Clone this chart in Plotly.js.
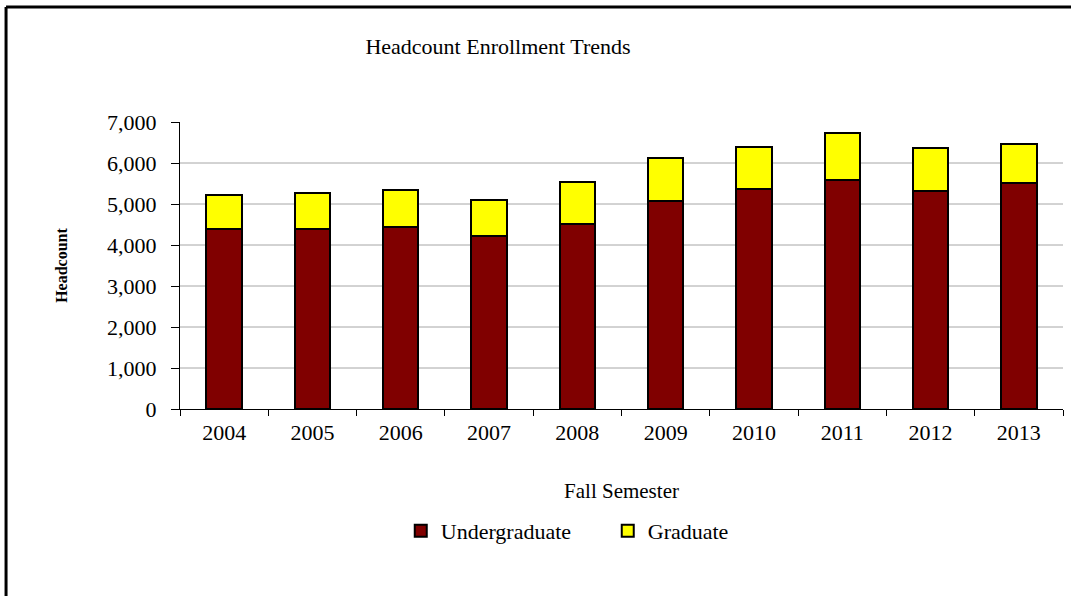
<!DOCTYPE html>
<html>
<head>
<meta charset="utf-8">
<script src="https://cdn.plot.ly/plotly-3.0.1.min.js"></script>
<style>html,body{margin:0;padding:0;background:#fff;}#chart{width:1071px;height:596px;}</style>
</head>
<body>
<div id="chart"></div>
<script>
const years = ['2004','2005','2006','2007','2008','2009','2010','2011','2012','2013'];
const undergraduate = [4390, 4390, 4430, 4230, 4520, 5080, 5375, 5595, 5325, 5520];
const graduate = [830, 870, 910, 870, 1025, 1030, 1015, 1145, 1035, 940];
const yTickVals = [0, 1000, 2000, 3000, 4000, 5000, 6000, 7000];
const gridVals = [1000, 2000, 3000, 4000, 5000, 6000];

const serif = 'Liberation Serif, Times New Roman, serif';

const traces = [
  {type:'bar', name:'Undergraduate', x:years, y:undergraduate,
   marker:{color:'#800000', line:{color:'#000', width:2}}, hoverinfo:'x+y+name'},
  {type:'bar', name:'Graduate', x:years, y:graduate,
   marker:{color:'#FFFF00', line:{color:'#000', width:2}}, hoverinfo:'x+y+name'}
];

const gridShapes = gridVals.map(v => ({
  type:'line', xref:'paper', yref:'y', x0:0, x1:1, y0:v, y1:v,
  line:{color:'#a6a6a6', width:1}, layer:'below'
}));

const layout = {
  width:1071, height:596,
  margin:{l:180, r:8, t:122, b:187, pad:0},
  paper_bgcolor:'#fff', plot_bgcolor:'#fff',
  font:{family:serif, color:'#000', size:21},
  barmode:'stack', bargap:0.6,
  title:{text:'Headcount Enrollment Trends', font:{family:serif, size:22, color:'#000'},
         xref:'container', x:0.465, xanchor:'center', yref:'container', y:0.923, yanchor:'middle'},
  xaxis:{type:'category', tickson:'boundaries', ticks:'outside', ticklen:6, tickcolor:'#000', tickwidth:1,
         showline:true, linecolor:'#000', linewidth:1, showgrid:false, ticklabelstandoff:4,
         tickfont:{family:serif, size:22, color:'#000'},
         title:{text:'Fall Semester', font:{family:serif, size:21, color:'#000'}, standoff:38}},
  yaxis:{range:[0,7000], tickvals:yTickVals, tickformat:',', ticks:'outside', ticklen:8, tickcolor:'#000', tickwidth:1,
         showline:true, linecolor:'#000', linewidth:1, showgrid:false,
         zeroline:false, ticklabelstandoff:10,
         tickfont:{family:serif, size:22, color:'#000'},
         title:{text:'<b>Headcount</b>', font:{family:serif, size:16, color:'#000'}, standoff:35}},
  legend:{orientation:'h', x:0.25, xanchor:'left', y:-0.425, yanchor:'middle',
          entrywidth:162, entrywidthmode:'pixels',
          font:{family:serif, size:22, color:'#000'}, traceorder:'normal', bgcolor:'rgba(0,0,0,0)'},
  showlegend:true,
  shapes:gridShapes.concat([
    {type:'line', xref:'paper', yref:'paper', x0:-0.197, x1:-0.197, y0:-0.8, y1:1.4007, line:{color:'#000', width:3}},
    {type:'line', xref:'paper', yref:'paper', x0:-0.197, x1:1.2, y0:1.4007, y1:1.4007, line:{color:'#000', width:3}}
  ])
};

Plotly.newPlot('chart', traces, layout, {displayModeBar:false, staticPlot:true});
</script>
</body>
</html>
